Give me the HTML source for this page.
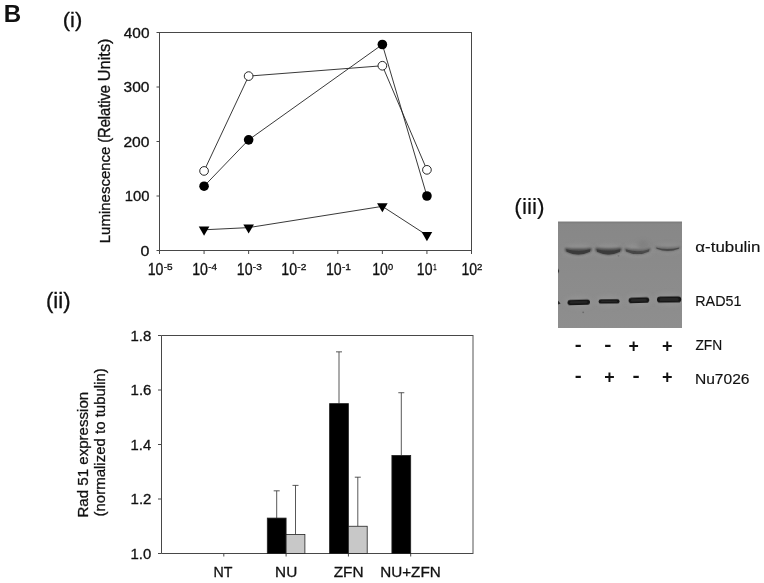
<!DOCTYPE html><html><head><meta charset="utf-8"><title>Figure B</title>
<style>html,body{margin:0;padding:0;background:#fff}svg{display:block}text{font-family:"Liberation Sans",sans-serif;fill:#111;stroke:#111;stroke-width:0.3px}.ns{stroke:none}.ls{stroke-width:0.15px}.ax{stroke:#484848;stroke-width:1;fill:none}.ln{stroke:#222;stroke-width:0.9;fill:none}.eb{stroke:#3a3a3a;stroke-width:0.85;fill:none}</style></head><body>
<svg width="764" height="583" viewBox="0 0 764 583">
<defs><filter id="b1" x="-20%" y="-100%" width="140%" height="300%"><feGaussianBlur stdDeviation="0.9"/></filter><filter id="b2" x="-20%" y="-100%" width="140%" height="300%"><feGaussianBlur stdDeviation="0.7"/></filter><filter id="b3" x="-30%" y="-100%" width="160%" height="300%"><feGaussianBlur stdDeviation="2"/></filter><linearGradient id="bg" x1="0" y1="0" x2="0" y2="1"><stop offset="0" stop-color="#878787"/><stop offset="0.5" stop-color="#8b8b8b"/><stop offset="1" stop-color="#8e8e8e"/></linearGradient></defs>
<rect width="764" height="583" fill="#fff"/>
<text transform="translate(3.63,22.00) scale(0.978,1)" font-size="24.64" font-weight="bold" class="ns">B</text>
<text transform="translate(62.78,27.42) scale(1.053,1)" font-size="20.86">(i)</text>
<text transform="translate(45.97,308.36) scale(1.024,1)" font-size="21.60">(ii)</text>
<text transform="translate(514.34,213.63) scale(1.022,1)" font-size="22.25" class="ls">(iii)</text>
<rect class="ax" x="159.5" y="32.5" width="312.0" height="218.0"/>
<line class="ax" x1="156.5" y1="250.50" x2="159.5" y2="250.50"/>
<text transform="translate(140.56,255.56) scale(1.159,1)" font-size="13.80">0</text>
<line class="ax" x1="156.5" y1="196.00" x2="159.5" y2="196.00"/>
<text transform="translate(124.69,201.06) scale(1.075,1)" font-size="13.80">100</text>
<line class="ax" x1="156.5" y1="141.50" x2="159.5" y2="141.50"/>
<text transform="translate(123.42,146.56) scale(1.132,1)" font-size="13.80">200</text>
<line class="ax" x1="156.5" y1="87.00" x2="159.5" y2="87.00"/>
<text transform="translate(123.58,92.06) scale(1.124,1)" font-size="13.80">300</text>
<line class="ax" x1="156.5" y1="32.50" x2="159.5" y2="32.50"/>
<text transform="translate(123.82,37.56) scale(1.114,1)" font-size="13.80">400</text>
<line class="ax" x1="159.50" y1="250.5" x2="159.50" y2="254.0"/>
<text transform="translate(147.64,274.94) scale(0.898,1)" font-size="15.77">10</text>
<text transform="translate(163.65,269.71) scale(1.082,1)" font-size="9.30">-5</text>
<line class="ax" x1="204.07" y1="250.5" x2="204.07" y2="254.0"/>
<text transform="translate(192.21,274.94) scale(0.898,1)" font-size="15.77">10</text>
<text transform="translate(208.22,269.80) scale(1.069,1)" font-size="9.30">-4</text>
<line class="ax" x1="248.64" y1="250.5" x2="248.64" y2="254.0"/>
<text transform="translate(236.78,274.94) scale(0.898,1)" font-size="15.77">10</text>
<text transform="translate(252.79,269.71) scale(1.089,1)" font-size="9.30">-3</text>
<line class="ax" x1="293.21" y1="250.5" x2="293.21" y2="254.0"/>
<text transform="translate(281.35,274.94) scale(0.898,1)" font-size="15.77">10</text>
<text transform="translate(297.36,269.80) scale(1.096,1)" font-size="9.30">-2</text>
<line class="ax" x1="337.79" y1="250.5" x2="337.79" y2="254.0"/>
<text transform="translate(325.92,274.94) scale(0.898,1)" font-size="15.77">10</text>
<text transform="translate(341.93,269.80) scale(1.096,1)" font-size="9.30">-1</text>
<line class="ax" x1="382.36" y1="250.5" x2="382.36" y2="254.0"/>
<text transform="translate(372.30,274.94) scale(0.892,1)" font-size="15.77">10</text>
<text transform="translate(387.99,269.71) scale(0.996,1)" font-size="9.30">0</text>
<line class="ax" x1="426.93" y1="250.5" x2="426.93" y2="254.0"/>
<text transform="translate(416.87,274.94) scale(0.892,1)" font-size="15.77">10</text>
<text transform="translate(433.28,269.80) scale(0.650,1)" font-size="9.30">1</text>
<line class="ax" x1="471.50" y1="250.5" x2="471.50" y2="254.0"/>
<text transform="translate(461.44,274.94) scale(0.892,1)" font-size="15.77">10</text>
<text transform="translate(477.02,269.80) scale(1.040,1)" font-size="9.30">2</text>
<text transform="translate(110.35,243.30) rotate(-90) scale(1,1.024)" font-size="15.02">Luminescence</text>
<text transform="translate(109.82,142.78) rotate(-90) scale(1,1.133)" font-size="14.64">(Relative</text>
<text transform="translate(109.82,81.23) rotate(-90) scale(1,1.011)" font-size="16.40">Units)</text>
<polyline class="ln" points="204.07,170.93 248.64,76.10 382.36,65.75 426.93,169.84"/>
<polyline class="ln" points="204.07,186.19 248.64,139.87 382.36,44.49 426.93,196.00"/>
<polyline class="ln" points="204.07,229.79 248.64,227.61 382.36,206.35 426.93,235.24"/>
<circle cx="204.07" cy="170.93" r="4.35" fill="#fff" stroke="#111" stroke-width="0.9"/>
<circle cx="248.64" cy="76.10" r="4.35" fill="#fff" stroke="#111" stroke-width="0.9"/>
<circle cx="382.36" cy="65.75" r="4.35" fill="#fff" stroke="#111" stroke-width="0.9"/>
<circle cx="426.93" cy="169.84" r="4.35" fill="#fff" stroke="#111" stroke-width="0.9"/>
<circle cx="204.07" cy="186.19" r="4.8" fill="#000"/>
<circle cx="248.64" cy="139.87" r="4.8" fill="#000"/>
<circle cx="382.36" cy="44.49" r="4.8" fill="#000"/>
<circle cx="426.93" cy="196.00" r="4.8" fill="#000"/>
<polygon points="198.77,226.59 209.37,226.59 204.07,235.69" fill="#000"/>
<polygon points="243.34,224.41 253.94,224.41 248.64,233.51" fill="#000"/>
<polygon points="377.06,203.16 387.66,203.16 382.36,212.25" fill="#000"/>
<polygon points="421.63,232.04 432.23,232.04 426.93,241.14" fill="#000"/>
<path class="ax" d="M473.0,335.5 H161.5 V553.5 H473.0"/>
<line x1="473.0" y1="335.0" x2="473.0" y2="554.0" stroke="#555" stroke-width="1"/>
<line class="ax" x1="158.0" y1="553.50" x2="161.5" y2="553.50"/>
<text transform="translate(130.58,558.66) scale(1.048,1)" font-size="14.23">1.0</text>
<line class="ax" x1="158.0" y1="499.00" x2="161.5" y2="499.00"/>
<text transform="translate(130.57,504.30) scale(1.041,1)" font-size="14.43">1.2</text>
<line class="ax" x1="158.0" y1="444.50" x2="161.5" y2="444.50"/>
<text transform="translate(130.59,449.80) scale(1.010,1)" font-size="14.64">1.4</text>
<line class="ax" x1="158.0" y1="390.00" x2="161.5" y2="390.00"/>
<text transform="translate(130.58,395.16) scale(1.052,1)" font-size="14.23">1.6</text>
<line class="ax" x1="158.0" y1="335.50" x2="161.5" y2="335.50"/>
<text transform="translate(130.58,340.66) scale(1.048,1)" font-size="14.23">1.8</text>
<line class="ax" x1="223.80" y1="553.5" x2="223.80" y2="556.5"/>
<text transform="translate(213.56,577.30) scale(0.962,1)" font-size="14.78">NT</text>
<line class="ax" x1="286.10" y1="553.5" x2="286.10" y2="556.5"/>
<text transform="translate(275.07,577.15) scale(1.052,1)" font-size="14.57">NU</text>
<line class="eb" x1="276.70" y1="490.82" x2="276.70" y2="518.08"/>
<line class="eb" x1="273.70" y1="490.82" x2="279.70" y2="490.82"/>
<rect x="267.30" y="518.08" width="18.8" height="35.42" fill="#000" stroke="#222" stroke-width="0.8"/>
<line class="eb" x1="295.50" y1="485.38" x2="295.50" y2="534.42"/>
<line class="eb" x1="292.50" y1="485.38" x2="298.50" y2="485.38"/>
<rect x="286.10" y="534.42" width="18.8" height="19.08" fill="#c8c8c8" stroke="#222" stroke-width="0.8"/>
<line class="ax" x1="348.40" y1="553.5" x2="348.40" y2="556.5"/>
<text transform="translate(333.64,577.30) scale(1.039,1)" font-size="14.78">ZFN</text>
<line class="eb" x1="339.00" y1="351.85" x2="339.00" y2="403.62"/>
<line class="eb" x1="336.00" y1="351.85" x2="342.00" y2="351.85"/>
<rect x="329.60" y="403.62" width="18.8" height="149.88" fill="#000" stroke="#222" stroke-width="0.8"/>
<line class="eb" x1="357.80" y1="477.20" x2="357.80" y2="526.25"/>
<line class="eb" x1="354.80" y1="477.20" x2="360.80" y2="477.20"/>
<rect x="348.40" y="526.25" width="18.8" height="27.25" fill="#c8c8c8" stroke="#222" stroke-width="0.8"/>
<line class="ax" x1="410.70" y1="553.5" x2="410.70" y2="556.5"/>
<text transform="translate(380.18,577.15) scale(1.047,1)" font-size="14.57">NU+ZFN</text>
<line class="eb" x1="401.30" y1="392.73" x2="401.30" y2="455.40"/>
<line class="eb" x1="398.30" y1="392.73" x2="404.30" y2="392.73"/>
<rect x="391.90" y="455.40" width="18.8" height="98.10" fill="#000" stroke="#222" stroke-width="0.8"/>
<text transform="translate(88.48,517.61) rotate(-90) scale(1,0.984)" font-size="15.10">Rad 51 expression</text>
<text transform="translate(104.79,516.50) rotate(-90) scale(1,0.955)" font-size="15.01">(normalized to tubulin)</text>
<clipPath id="bc"><rect x="558" y="221.6" width="124" height="106.4"/></clipPath>
<rect x="558" y="221.6" width="124" height="106.4" fill="url(#bg)"/>
<g clip-path="url(#bc)">
<rect x="558" y="221.6" width="124" height="1.6" fill="#7e7e7e" filter="url(#b2)"/>
<ellipse cx="578.2" cy="251.0" rx="16.2" ry="6.5" fill="#9a9a9a" opacity="0.55" filter="url(#b3)"/>
<ellipse cx="608.5" cy="251.0" rx="16.0" ry="6.5" fill="#9a9a9a" opacity="0.55" filter="url(#b3)"/>
<ellipse cx="637.5" cy="251.0" rx="16.0" ry="6.5" fill="#9a9a9a" opacity="0.55" filter="url(#b3)"/>
<ellipse cx="667.8" cy="249.0" rx="15.8" ry="5.0" fill="#9a9a9a" opacity="0.4" filter="url(#b3)"/>
<path d="M565.0,247.7 Q578.2,249.5 591.5,247.7 Q592.5,249.8 590.7,251.8 Q578.2,258.0 565.8,251.8 Q564.0,249.8 565.0,247.7Z" fill="#4e4e4e" filter="url(#b1)"/>
<path d="M566.2,249.3 Q578.2,252.6 590.3,249.3 L589.9,251.8 Q578.2,257.4 566.6,251.8Z" fill="#3a3a3a" filter="url(#b2)"/>
<path d="M595.5,247.5 Q608.5,249.3 621.5,247.5 Q622.5,249.7 620.7,251.8 Q608.5,258.0 596.3,251.8 Q594.5,249.7 595.5,247.5Z" fill="#4e4e4e" filter="url(#b1)"/>
<path d="M596.7,249.2 Q608.5,252.5 620.3,249.2 L619.9,251.8 Q608.5,257.4 597.1,251.8Z" fill="#3a3a3a" filter="url(#b2)"/>
<path d="M624.5,247.7 Q637.5,250.7 650.5,247.7 Q651.5,249.6 649.7,251.4 Q637.5,257.4 625.3,251.4 Q623.5,249.6 624.5,247.7Z" fill="#5e5e5e" filter="url(#b1)"/>
<path d="M625.7,249.2 Q637.5,253.2 649.3,249.2 L648.9,251.4 Q637.5,256.8 626.1,251.4Z" fill="#464646" filter="url(#b2)"/>
<ellipse cx="643" cy="245.5" rx="6" ry="4.5" fill="#7c7c7c" opacity="0.7" filter="url(#b3)"/>
<path d="M655.0,246.6 Q667.8,248.6 680.5,246.6 Q681.5,247.7 679.7,248.8 Q667.8,254.0 655.8,248.8 Q654.0,247.7 655.0,246.6Z" fill="#686868" filter="url(#b1)"/>
<path d="M656.2,247.5 Q667.8,250.6 679.3,247.5 L678.9,248.8 Q667.8,253.4 656.6,248.8Z" fill="#4a4a4a" filter="url(#b2)"/>
<ellipse cx="578.8" cy="302.3" rx="14.2" ry="6.1" fill="#9a9a9a" opacity="0.5" filter="url(#b3)"/>
<rect x="567.5" y="299.70" width="22.5" height="5.2" rx="2.60" fill="#141414" filter="url(#b2)" transform="rotate(-1.6 578.8 302.3)"/>
<rect x="570.0" y="301.30" width="17.5" height="2.00" rx="1.00" fill="#2c2c2c" filter="url(#b2)" opacity="0.8" transform="rotate(-1.6 578.8 302.3)"/>
<ellipse cx="609.1" cy="301.4" rx="13.5" ry="5.7" fill="#9a9a9a" opacity="0.5" filter="url(#b3)"/>
<rect x="598.6" y="299.20" width="21.0" height="4.4" rx="2.20" fill="#191919" filter="url(#b2)" transform="rotate(-0.6 609.1 301.4)"/>
<rect x="601.1" y="300.80" width="16.0" height="1.20" rx="0.60" fill="#2c2c2c" filter="url(#b2)" opacity="0.8" transform="rotate(-0.6 609.1 301.4)"/>
<ellipse cx="638.9" cy="300.3" rx="13.3" ry="6.3" fill="#9a9a9a" opacity="0.5" filter="url(#b3)"/>
<rect x="628.6" y="297.50" width="20.600000000000023" height="5.6" rx="2.80" fill="#141414" filter="url(#b2)" transform="rotate(-1.8 638.9 300.3)"/>
<rect x="631.1" y="299.10" width="15.600000000000023" height="2.40" rx="1.20" fill="#2c2c2c" filter="url(#b2)" opacity="0.8" transform="rotate(-1.8 638.9 300.3)"/>
<ellipse cx="669.1" cy="299.5" rx="15.1" ry="6.6" fill="#9a9a9a" opacity="0.5" filter="url(#b3)"/>
<rect x="657" y="296.40" width="24.200000000000045" height="6.2" rx="3.10" fill="#121212" filter="url(#b2)" transform="rotate(-0.8 669.1 299.5)"/>
<rect x="659.5" y="298.00" width="19.200000000000045" height="3.00" rx="1.50" fill="#2c2c2c" filter="url(#b2)" opacity="0.8" transform="rotate(-0.8 669.1 299.5)"/>
<path d="M558,300.8 L560.6,303.6 L558,304.6Z" fill="#2a2a2a" filter="url(#b2)"/>
<path d="M558,268.5 L559.2,271 L558,273.5Z" fill="#303030" filter="url(#b2)"/>
<circle cx="583.2" cy="312.3" r="0.9" fill="#6a6a6a" filter="url(#b2)"/>
<circle cx="618.5" cy="255.8" r="0.9" fill="#777" filter="url(#b2)"/>
</g>
<text transform="translate(695.32,251.65) scale(1.161,1)" font-size="14.56" class="ls">α-tubulin</text>
<text transform="translate(695.25,306.45) scale(0.956,1)" font-size="15.00" class="ls">RAD51</text>
<text transform="translate(695.39,350.30) scale(0.950,1)" font-size="14.49" class="ls">ZFN</text>
<text transform="translate(694.95,384.25) scale(1.054,1)" font-size="14.79" class="ls">Nu7026</text>
<text transform="translate(574.87,350.80) scale(1.155,1)" font-size="18.00" font-weight="bold" class="ns">-</text>
<text transform="translate(604.14,350.80) scale(1.198,1)" font-size="18.00" font-weight="bold" class="ns">-</text>
<text transform="translate(628.40,351.78) scale(0.956,1)" font-size="18.43" font-weight="bold" class="ns">+</text>
<text transform="translate(661.98,351.78) scale(0.978,1)" font-size="18.43" font-weight="bold" class="ns">+</text>
<text transform="translate(574.87,382.20) scale(1.155,1)" font-size="18.00" font-weight="bold" class="ns">-</text>
<text transform="translate(604.29,382.95) scale(0.988,1)" font-size="18.04" font-weight="bold" class="ns">+</text>
<text transform="translate(632.44,382.20) scale(1.198,1)" font-size="18.00" font-weight="bold" class="ns">-</text>
<text transform="translate(661.98,382.95) scale(0.999,1)" font-size="18.04" font-weight="bold" class="ns">+</text>
</svg></body></html>
